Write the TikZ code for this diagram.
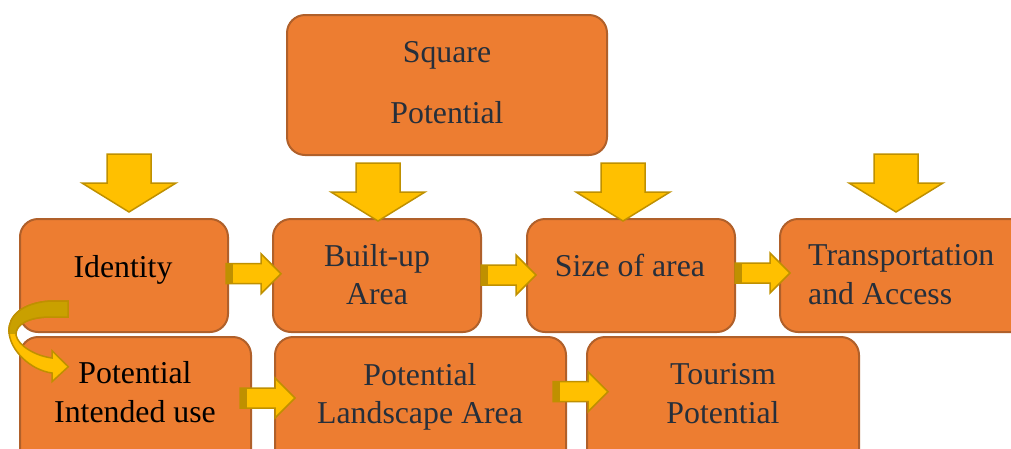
\documentclass[tikz,border=0pt]{standalone}
\usepackage{fontspec}
\setmainfont{Liberation Serif}
\definecolor{boxfill}{HTML}{ED7D31}
\definecolor{boxline}{HTML}{B0602A}
\definecolor{arrfill}{HTML}{FFC000}
\definecolor{arrline}{HTML}{BF9000}
\definecolor{arrdark}{HTML}{C9A000}
\definecolor{txt}{HTML}{262F3B}

% right-pointing block arrow: start x, centre y
\newcommand\rblk[2]{%
  \draw[blk] (#1,#2-10) -- (#1+35,#2-10) -- (#1+35,#2-20) -- (#1+55,#2)
    -- (#1+35,#2+20) -- (#1+35,#2+10) -- (#1,#2+10) -- cycle;
  \fill[arrline] (#1,#2-10) rectangle (#1+7,#2+10);}
% downward block arrow: centre x, top y
\newcommand\dblk[2]{%
  \draw[blk] (#1-22,#2) -- (#1+22,#2) -- (#1+22,#2+29) -- (#1+47,#2+29)
    -- (#1,#2+58) -- (#1-47,#2+29) -- (#1-22,#2+29) -- cycle;}

\begin{document}
\begin{tikzpicture}[x=1pt,y=-1pt,
  box/.style={draw=boxline, fill=boxfill, line width=2pt, rounded corners=18pt,
    rectangle, inner sep=0pt},
  lbl/.style={font=\fontsize{31.8}{38}\selectfont, text=txt, inner sep=0pt, anchor=base},
  blk/.style={fill=arrfill, draw=arrline, line width=1.5pt, line join=miter}]
\useasboundingbox (0,0) rectangle (1011,448);
\clip (0,0) rectangle (1011,448);

% boxes
\node[box, minimum width=320pt, minimum height=140pt] (sq) at (447,85) {};
\node[box, minimum width=208pt, minimum height=113pt] (id) at (124,275.5) {};
\node[box, minimum width=208pt, minimum height=113pt] (bu) at (377,275.5) {};
\node[box, minimum width=208pt, minimum height=113pt] (sz) at (631,275.5) {};
\node[box, minimum width=250pt, minimum height=113pt] (tr) at (905,275.5) {};
\node[box, minimum width=231pt, minimum height=135pt] (pi) at (135.5,404.5) {};
\node[box, minimum width=291pt, minimum height=135pt] (pl) at (420.5,404.5) {};
\node[box, minimum width=272pt, minimum height=135pt] (tp) at (723,404.5) {};

% labels
\node[lbl] (sq1) at (447,62) {Square};
\node[lbl] (sq2) at (447,123) {Potential};
\node[lbl, text=black] (id1) at (123,277) {Identity};
\node[lbl] (bu1) at (377,266) {Built-up};
\node[lbl] (bu2) at (377,304) {Area};
\node[lbl] (sz1) at (630,276) {Size of area};
\node[lbl, anchor=base west] (tr1) at (808,265) {Transportation};
\node[lbl, anchor=base west] (tr2) at (808,304) {and Access};
\node[lbl, text=black] (pi1) at (135,383) {Potential};
\node[lbl, text=black] (pi2) at (135,422) {Intended use};
\node[lbl] (pl1) at (420,385) {Potential};
\node[lbl] (pl2) at (420,423) {Landscape Area};
\node[lbl] (tp1) at (723,384) {Tourism};
\node[lbl] (tp2) at (723,423) {Potential};

% downward arrows
\dblk{129}{154}
\dblk{378}{163}
\dblk{623}{163}
\dblk{896}{154}

% arrows between boxes
\rblk{226}{273.7}
\rblk{481}{275}
\rblk{735}{273}
\rblk{240}{398}
\rblk{553}{391.7}

% curved arrow from Identity down to Potential Intended use
\def\curv{(68,301) -- (50,301) .. controls (22,303) and (8,316) .. (9,332)
  .. controls (10,350) and (30,370) .. (52,373) -- (52,381.7) -- (68.3,366.7)
  -- (52,350.7) -- (52,358) .. controls (36,356) and (18,346) .. (16,335)
  .. controls (15,324) and (30,317) .. (50,317) -- (68,317) -- cycle}
\draw[blk] \curv;
\begin{scope}
  \clip (0,290) rectangle (80,333);
  \fill[arrdark] \curv;
  \draw[arrline, line width=1.5pt] \curv;
\end{scope}
\end{tikzpicture}
\end{document}
